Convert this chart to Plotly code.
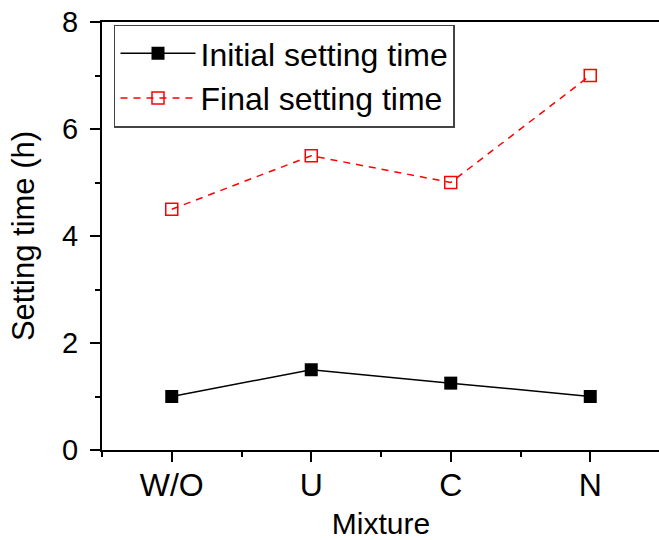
import plotly.graph_objects as go

categories = ["W/O", "U", "C", "N"]
initial_setting = [1.0, 1.5, 1.25, 1.0]
final_setting = [4.5, 5.5, 5.0, 7.0]
y_ticks = [0, 2, 4, 6, 8]

xpos = list(range(len(categories)))

fig = go.Figure()
fig.add_trace(go.Scatter(
    x=xpos, y=initial_setting, mode="lines+markers", name="Initial setting time",
    line=dict(color="black", width=1.5),
    marker=dict(symbol="square", size=13, color="black"),
))
fig.add_trace(go.Scatter(
    x=xpos, y=final_setting, mode="lines+markers", name="Final setting time",
    line=dict(color="#ff0000", width=1.5, dash="7px,6px"),
    marker=dict(symbol="square-open", size=12, color="#ff0000", line=dict(width=1.5)),
))

font = "Liberation Sans, Arial, sans-serif"
fig.update_layout(
    width=662, height=540,
    margin=dict(l=102, r=0, t=22, b=90),
    paper_bgcolor="white", plot_bgcolor="white",
    font=dict(family=font, size=28, color="black"),
    showlegend=True,
    legend=dict(x=0.0215, y=0.994, xanchor="left", yanchor="top",
                bordercolor="#444", borderwidth=1.5, bgcolor="white",
                font=dict(size=32), itemwidth=75, tracegroupgap=0),
    xaxis=dict(
        range=[-0.5, 3.5], tickvals=xpos, ticktext=categories,
        showline=True, linecolor="black", linewidth=2, mirror=True,
        ticks="outside", ticklen=10, tickwidth=2, tickcolor="black",
        minor=dict(ticks="outside", ticklen=5, tickwidth=2, dtick=0.5, tick0=-0.5, tickcolor="black"),
        showgrid=False, zeroline=False,
        tickfont=dict(size=32),
        ticklabelstandoff=-4,
        title=dict(text="Mixture", font=dict(size=30), standoff=12),
    ),
    yaxis=dict(
        range=[0, 8], tickvals=y_ticks,
        showline=True, linecolor="black", linewidth=2, mirror=True,
        ticks="outside", ticklen=10, tickwidth=2, tickcolor="black",
        minor=dict(ticks="outside", ticklen=5, tickwidth=2, dtick=1, tickcolor="black"),
        showgrid=False, zeroline=False,
        tickfont=dict(size=29),
        ticklabelstandoff=6,
        ticklabeloverflow="allow",
        title=dict(text="Setting time (h)", font=dict(size=31), standoff=18),
    ),
)
fig.write_html(
    "out.html",
    config={"displayModeBar": False},
    post_script="document.body.style.margin='0';document.body.style.overflow='hidden';",
)
